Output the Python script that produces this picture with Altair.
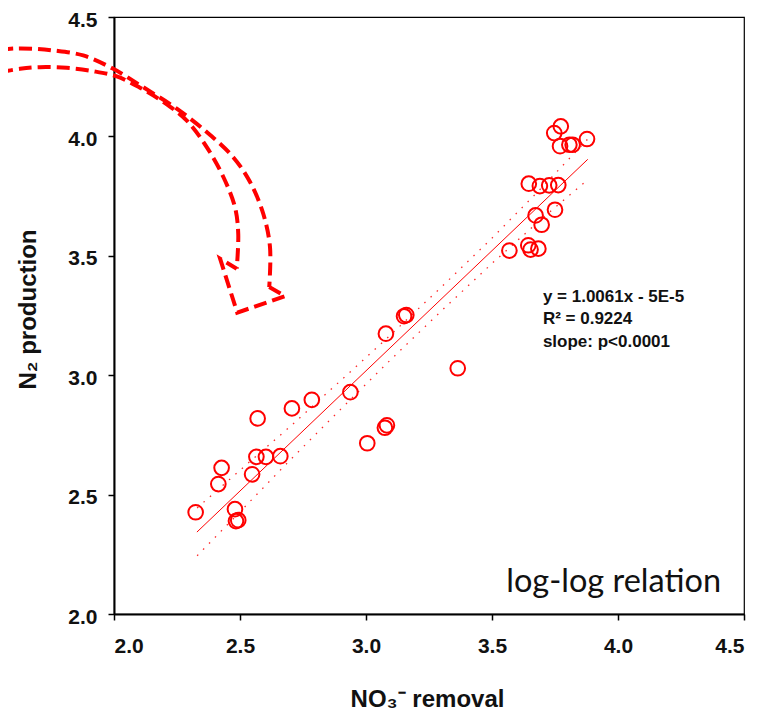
import altair as alt
import pandas as pd

# ---- data (log10 values) ----
nitrate_removal = [2.324, 2.427, 2.414, 2.570, 2.565, 2.603, 2.660, 2.548, 2.480, 2.493,
                   2.484, 2.706, 2.785, 2.938, 3.005, 3.075, 3.083, 3.079, 3.151, 3.160,
                   3.364, 3.569, 3.644, 3.653, 3.684, 3.673, 3.697, 3.750, 3.646, 3.690,
                   3.727, 3.763, 3.773, 3.747, 3.770, 3.807, 3.820, 3.877]
n2_production = [2.426, 2.612, 2.544, 2.819, 2.658, 2.658, 2.661, 2.585, 2.439, 2.393,
                 2.389, 2.861, 2.897, 2.929, 2.715, 2.780, 2.790, 3.174, 3.247, 3.252,
                 3.029, 3.522, 3.544, 3.526, 3.530, 3.669, 3.630, 3.693, 3.802, 3.792,
                 3.795, 3.796, 4.042, 4.014, 3.959, 3.965, 3.965, 3.989]

fit_x = [2.329, 3.880]
fit_y = [2.343, 3.904]

band_x = [2.33, 2.50, 2.70, 2.90, 3.10, 3.30, 3.50, 3.70, 3.88]
band_upper = [2.444, 2.602, 2.786, 2.978, 3.171, 3.370, 3.574, 3.788, 3.989]
band_lower = [2.244, 2.428, 2.646, 2.858, 3.067, 3.270, 3.468, 3.658, 3.819]

# curved dashed arrow annotation (outline), in data units
arrow_outer_x = [1.548, 1.607, 1.680, 1.759, 1.878, 1.997, 2.116, 2.249, 2.368, 2.473, 2.540, 2.592, 2.619, 2.616]
arrow_outer_y = [4.363, 4.368, 4.367, 4.360, 4.339, 4.283, 4.206, 4.116, 4.018, 3.913, 3.809, 3.677, 3.537, 3.369]
arrow_inner_x = [1.548, 1.627, 1.706, 1.812, 1.918, 2.011, 2.103, 2.196, 2.288, 2.368, 2.434, 2.480, 2.493, 2.487]
arrow_inner_y = [4.269, 4.283, 4.290, 4.287, 4.273, 4.251, 4.204, 4.144, 4.067, 3.955, 3.830, 3.704, 3.593, 3.446]
arrow_head_x = [2.616, 2.679, 2.489, 2.421, 2.487]
arrow_head_y = [3.369, 3.331, 3.262, 3.488, 3.446]

tick_values = [2.0, 2.5, 3.0, 3.5, 4.0, 4.5]
equation_text = "y = 1.0061x - 5E-5\nR² = 0.9224\nslope: p<0.0001"
equation_pos = (3.702, 3.3075)
note_text = "log-log relation"
note_pos = (4.409, 2.092)

x_title = "NO₃⁻ removal"
y_title = "N₂ production"

RED = "#ff0000"

# ---- tables ----
pts = pd.DataFrame({"x": nitrate_removal, "y": n2_production})
fit = pd.DataFrame({"x": fit_x, "y": fit_y})
band = pd.DataFrame({
    "x": band_x + band_x,
    "y": band_upper + band_lower,
    "side": ["upper"] * len(band_x) + ["lower"] * len(band_x),
})
shaft = pd.DataFrame({
    "x": arrow_outer_x + arrow_inner_x,
    "y": arrow_outer_y + arrow_inner_y,
    "edge": ["outer"] * len(arrow_outer_x) + ["inner"] * len(arrow_inner_x),
    "i": list(range(len(arrow_outer_x))) + list(range(len(arrow_inner_x))),
})
head = pd.DataFrame({"x": arrow_head_x, "y": arrow_head_y, "i": list(range(len(arrow_head_x)))})
eq = pd.DataFrame({"x": [equation_pos[0]], "y": [equation_pos[1]], "t": [equation_text]})
note = pd.DataFrame({"x": [note_pos[0]], "y": [note_pos[1]], "t": [note_text]})

axis_common = dict(
    values=tick_values, format=".1f", grid=False,
    domainColor="black", domainWidth=2, tickColor="black", tickWidth=1.5, tickSize=6,
    labelFont="Liberation Sans", labelFontWeight="bold", labelFontSize=21, labelColor="#111111",
    titleFont="Liberation Sans", titleFontWeight="bold", titleFontSize=24, titleColor="#111111",
)

X = alt.X("x:Q", scale=alt.Scale(domain=[2, 4.5], nice=False, zero=False),
          axis=alt.Axis(title=x_title, labelPadding=15, titleX=313, titleY=92,
                        titleAlign="center", titleBaseline="alphabetic", **axis_common))
Y = alt.Y("y:Q", scale=alt.Scale(domain=[2, 4.5], nice=False, zero=False),
          axis=alt.Axis(title=y_title, labelPadding=11, labelOffset=3, titleX=-79, titleY=292,
                        titleAngle=270, titleAlign="center", titleBaseline="alphabetic",
                        **axis_common))

band_layer = alt.Chart(band).mark_line(color=RED, strokeWidth=1.3, strokeDash=[1.5, 7], opacity=0.85).encode(
    x=X, y=Y, detail="side:N")
fit_layer = alt.Chart(fit).mark_line(color=RED, strokeWidth=1).encode(x=X, y=Y)
pt_layer = alt.Chart(pts).mark_point(shape="circle", filled=False, color=RED, size=215,
                                     strokeWidth=2, opacity=1).encode(x=X, y=Y)
shaft_layer = alt.Chart(shaft).mark_line(color=RED, strokeWidth=4, strokeDash=[13, 6],
                                         interpolate="catmull-rom").encode(
    x=X, y=Y, detail="edge:N", order="i:Q")
head_layer = alt.Chart(head).mark_line(color=RED, strokeWidth=4, strokeDash=[13, 6]).encode(
    x=X, y=Y, order="i:Q")
eq_layer = alt.Chart(eq).mark_text(align="left", baseline="alphabetic", font="Liberation Sans",
                                   fontWeight="bold", fontSize=17, lineBreak="\n", lineHeight=22.5,
                                   color="#111111").encode(x=X, y=Y, text="t:N")
note_layer = alt.Chart(note).mark_text(align="right", baseline="alphabetic", font="Lato",
                                       fontSize=32.5, color="#111111").encode(x=X, y=Y, text="t:N")

chart = alt.layer(shaft_layer, head_layer, band_layer, fit_layer, pt_layer, eq_layer, note_layer).properties(
    width=630, height=597,
    autosize=alt.AutoSizeParams(type="none"),
    padding={"left": 106, "top": 9, "right": 10, "bottom": 100},
).configure_view(stroke="black", strokeWidth=1.2)

chart.save("out.html", embed_options={"renderer": "svg", "actions": False})
